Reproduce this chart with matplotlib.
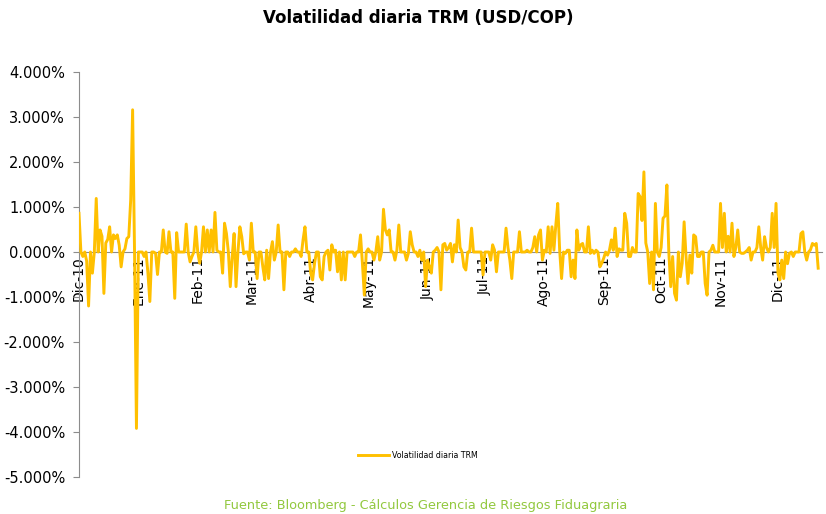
import matplotlib
matplotlib.use("Agg")
import matplotlib.pyplot as plt  # noqa: E402
from matplotlib.ticker import FuncFormatter  # noqa: E402
import pandas as pd  # noqa: E402

# Volatilidad diaria TRM en %, un valor por día calendario
dic10 = [0.86, 0, -0.1, 0, -0.2, -1.2, 0, -0.47, 0, 1.19,
         0, 0.49, 0.35, -0.92, 0.2, 0.28, 0.56, 0, 0.38, 0.3,
         0.38, 0.15, -0.33, 0, 0.07, 0.3, 0.34, 1.16, 3.16, 0,
         -3.92]
ene11 = [0, 0, 0, -0.1, 0, -0.47, -1.1, 0, 0, -0.03,
         -0.5, 0, 0, 0.49, 0, -0.03, 0.45, 0, 0, -1.03,
         0.43, 0, 0, 0, 0, 0.62, 0, -0.22, -0.1, 0,
         0.56]
feb11 = [0, -0.25, 0, 0.56, 0, 0.49, 0, 0.49, 0, 0.88,
         0.04, 0, 0, -0.47, 0.64, 0.41, 0, -0.77, -0.1, 0.41,
         -0.77, 0, 0.56, 0.34, -0.04, 0, 0, -0.18]
mar11 = [0.64, 0, 0, -0.59, 0, 0, -0.33, -0.62, 0.04, -0.59,
         0, 0.23, -0.18, 0, 0.6, 0, 0, -0.84, 0, 0,
         -0.1, 0, 0, 0.07, 0, 0, -0.1, 0.27, 0.56, 0,
         0]
abr11 = [-0.47, -0.62, -0.25, 0, 0, -0.55, -0.62, -0.1, 0, 0.04,
         -0.4, 0.16, 0, 0.04, -0.44, 0, -0.62, 0, -0.62, 0,
         0, 0, 0, -0.1, 0, 0, 0.38, -0.25, -0.96, 0]
may11 = [0.07, 0, 0, -0.18, 0, 0.34, -0.18, 0, 0.95, 0.49,
         0.38, 0.49, 0, 0, -0.18, 0.04, 0.6, 0, 0, 0,
         -0.18, -0.03, 0.45, 0.16, 0, 0, -0.1, 0.04, -0.18, 0,
         -0.77]
jun11 = [-0.18, -0.33, -0.47, 0, 0.04, 0.1, 0, -0.84, 0.16, 0.19,
         0.04, 0.1, 0.19, -0.22, 0.16, 0, 0.71, 0.1, 0, -0.33,
         -0.4, 0, 0, 0.53, 0, 0, 0, 0, 0, -0.51]
jul11 = [0, 0, 0, -0.18, 0.16, 0.04, -0.44, 0, 0, 0,
         0, 0.53, 0.1, -0.18, -0.59, 0, 0, 0, 0.45, 0,
         0, 0, 0.04, 0, 0, 0.1, 0.34, 0, 0.38, 0.49,
         -0.18]
ago11 = [0.04, 0, 0.56, -0.03, 0.56, 0.04, 0.6, 1.08, 0.04, -0.59,
         0, -0.03, 0.04, 0.04, -0.55, -0.18, -0.59, 0.49, 0.04, 0.16,
         0.19, 0, 0, 0.56, -0.03, 0.04, -0.03, 0.04, 0, -0.33,
         -0.25]
sep11 = [-0.14, 0, -0.07, 0.04, 0.27, 0.04, 0.53, -0.1, 0.07, 0.04,
         0.04, 0.86, 0.64, -0.1, -0.1, 0.1, 0, 0, 1.3, 1.23,
         0.7, 1.78, 0.2, 0, -0.7, 0, -0.84, 1.08, 0, -0.1]
oct11 = [0.1, 0.75, 0.8, 1.49, 0, -0.77, -0.1, -0.92, -1.07, 0,
         -0.55, -0.25, 0.67, -0.1, -0.7, -0.07, -0.47, 0.38, 0.34, -0.1,
         -0.1, 0, 0, -0.7, -0.96, 0, 0.04, 0.15, 0, 0,
         0]
nov11 = [1.08, 0.1, 0.86, 0, 0.35, 0, 0.64, -0.1, 0.1, 0.49,
         0, -0.03, -0.03, 0, 0.04, 0.1, -0.18, 0, 0, 0.1,
         0.56, 0.1, -0.18, 0.34, 0.1, 0, 0.1, 0.86, 0.1, 1.08]
dic11 = [-0.47, -0.62, -0.18, -0.59, 0, -0.26, -0.03, 0, -0.1, 0,
         0, 0, 0.41, 0.45, 0, -0.18, 0, 0.05, 0.19, 0.15,
         0.19, -0.36]

meses = ["Dic-10", "Ene-11", "Feb-11", "Mar-11", "Abr-11", "May-11", "Jun-11",
         "Jul-11", "Ago-11", "Sep-11", "Oct-11", "Nov-11", "Dic-11"]
niveles = [4, 3, 2, 1, 0, -1, -2, -3, -4, -5]

vol = (dic10 + ene11 + feb11 + mar11 + abr11 + may11 + jun11
       + jul11 + ago11 + sep11 + oct11 + nov11 + dic11)
fechas = pd.date_range("2010-12-01", periods=len(vol), freq="D")
inicio_meses = pd.date_range("2010-12-01", periods=len(meses), freq="MS")

W, H = 826, 514
GOLD = "#FFC000"
GRIS = "#8C8C8C"

fig = plt.figure(figsize=(W / 100, H / 100), dpi=100)
fig.patch.set_facecolor("white")
ax = fig.add_axes([79 / W, 37 / H, 743 / W, 405 / H])

ax.plot(fechas, vol, color=GOLD, lw=2.1, zorder=3,
        label="Volatilidad diaria TRM")

ax.set_ylim(-5, 4)
ax.set_xlim(pd.Timestamp("2010-12-01"), pd.Timestamp("2011-12-24"))

# spine at y=0 first: set_position resets the tick objects
for s in ("top", "right"):
    ax.spines[s].set_visible(False)
ax.spines["bottom"].set_position(("data", 0))
ax.spines["bottom"].set_color(GRIS)
ax.spines["left"].set_color(GRIS)

ax.set_yticks(niveles)
ax.yaxis.set_major_formatter(FuncFormatter(lambda v, _: f"{v:.3f}%"))
ax.set_xticks(inicio_meses)
ax.set_xticklabels(meses)
ax.tick_params(axis="x", length=0, pad=3, labelsize=10, labelrotation=90,
               colors="black")
ax.tick_params(axis="y", length=4, width=0.8, color=GRIS, pad=6,
               labelsize=10.5, labelcolor="black")

ax.legend(loc="center", bbox_to_anchor=(418 / W, 1 - 455 / H),
          bbox_transform=fig.transFigure, frameon=False, fontsize=5.7,
          handlelength=3.9, handletextpad=0.4)

fig.text(418 / W, 1 - 18 / H, "Volatilidad diaria TRM (USD/COP)",
         ha="center", va="center", fontsize=12, fontweight="bold")
fig.text(426 / W, 1 - 506 / H,
         "Fuente: Bloomberg - Cálculos Gerencia de Riesgos Fiduagraria",
         ha="center", va="center", fontsize=9.3, color="#92C83E")

fig.savefig("out.png", dpi=100, facecolor="white")
